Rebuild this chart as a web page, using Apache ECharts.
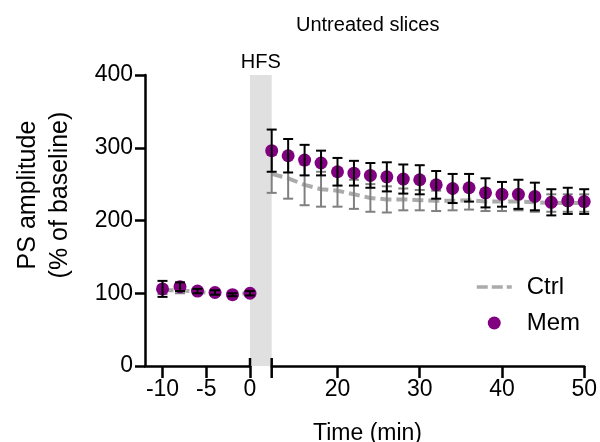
<!DOCTYPE html>
<html><head><meta charset="utf-8">
<script src="https://cdn.jsdelivr.net/npm/echarts@6/dist/echarts.min.js"></script>
<style>html,body{margin:0;padding:0;background:#fff}#c{width:600px;height:442px}</style>
</head><body><div id="c"></div>
<script>
const preTime = [-10, -8, -6, -4, -2, 0];
const postTime = [12, 14, 16, 18, 20, 22, 24, 26, 28, 30, 32, 34, 36, 38, 40, 42, 44, 46, 48, 50];
const memPre = [106, 109, 103, 101, 98, 100];
const memPreErr = [11, 6, 3, 3, 2, 3];
const ctrlPre = [104, 104, 102, 100, 99, 100];
const ctrlPreErr = [5, 4, 3, 3, 3, 3];
const memPost = [296, 289, 283, 279, 267, 265, 262, 260, 257, 256, 249, 244, 245, 238, 236, 236, 233, 225, 227, 226];
const memPostErr = [29, 23, 21, 17, 19, 17, 17, 20, 20, 20, 19, 20, 19, 20, 17, 20, 19, 18, 18, 17];
const ctrlPost = [264, 258, 249, 243, 241, 236, 231, 229, 229, 228, 227, 227, 228, 226, 226, 226, 225, 224, 224, 224];
const ctrlPostErr = [26, 28, 28, 24, 22, 20, 19, 18, 15, 14, 14, 13, 13, 13, 13, 12, 13, 12, 12, 12];
const preTicks = [-10, -5, 0];
const postTicks = [20, 30, 40, 50];

const FONT = 'Liberation Sans, Arial, sans-serif';
const PURPLE = '#800080';
const CTRL_LINE = '#ababab';
const CTRL_ERR = '#808080';

function pairs(t, v) { return t.map((x, i) => [x, v[i]]); }
function triples(t, v, e) { return t.map((x, i) => [x, v[i], e[i]]); }

function errRender(color) {
  return function (params, api) {
    const x = api.value(0), v = api.value(1), e = api.value(2);
    const top = api.coord([x, v + e]);
    const bot = api.coord([x, v - e]);
    const cw = 5;
    const st = { stroke: color, lineWidth: 2 };
    return {
      type: 'group', children: [
        { type: 'line', shape: { x1: top[0], y1: top[1], x2: bot[0], y2: bot[1] }, style: st },
        { type: 'line', shape: { x1: top[0] - cw, y1: top[1], x2: top[0] + cw, y2: top[1] }, style: st },
        { type: 'line', shape: { x1: bot[0] - cw, y1: bot[1], x2: bot[0] + cw, y2: bot[1] }, style: st }
      ]
    };
  };
}

const chart = echarts.init(document.getElementById('c'));
const axisLine = { show: true, onZero: false, lineStyle: { color: '#000', width: 2.5 } };
const labelStyle = { color: '#000', fontSize: 23, fontFamily: FONT };

const option = {
  animation: false,
  title: [
    { text: 'Untreated slices', left: 291, top: 10, textStyle: { fontSize: 20, fontWeight: 'normal', color: '#000', fontFamily: FONT } },
    { text: 'Time (min)', left: 308, top: 417, textStyle: { fontSize: 23, fontWeight: 'normal', color: '#000', fontFamily: FONT } }
  ],
  legend: {
    orient: 'vertical', left: 470, top: 270, itemWidth: 35, itemHeight: 13, itemGap: 12,
    textStyle: { fontSize: 24, color: '#000', fontFamily: FONT, padding: [0, 0, 0, 10] },
    data: [
      { name: 'Ctrl', itemStyle: { opacity: 0 }, lineStyle: { width: 3.5, type: [11, 4] } },
      { name: 'Mem', icon: 'circle' }
    ]
  },
  grid: [
    { left: 145, width: 105, top: 75, height: 291 },
    { left: 271.7, right: 14, top: 75, height: 291 }
  ],
  xAxis: [
    { gridIndex: 0, type: 'value', min: -12, max: 0, axisLine,
      axisTick: { show: true, customValues: preTicks, length: 12, lineStyle: { color: '#000', width: 2.5 } },
      axisLabel: Object.assign({ customValues: preTicks, margin: 12 }, labelStyle), splitLine: { show: false } },
    { gridIndex: 1, type: 'value', min: 12, max: 50, axisLine,
      axisTick: { show: true, customValues: postTicks, length: 12, lineStyle: { color: '#000', width: 2.5 } },
      axisLabel: Object.assign({ customValues: postTicks, margin: 12 }, labelStyle), splitLine: { show: false } }
  ],
  yAxis: [
    { gridIndex: 0, type: 'value', min: 0, max: 400, interval: 100, axisLine,
      axisTick: { show: true, length: 10, lineStyle: { color: '#000', width: 2.5 } },
      axisLabel: Object.assign({ margin: 12 }, labelStyle), splitLine: { show: false } },
    { gridIndex: 1, type: 'value', min: 0, max: 400, interval: 100, show: false }
  ],
  series: [
    { name: 'Ctrl', type: 'line', xAxisIndex: 0, yAxisIndex: 0, data: pairs(preTime, ctrlPre), symbol: 'none',
      lineStyle: { color: CTRL_LINE, width: 4, type: [11, 5] }, itemStyle: { color: CTRL_LINE }, z: 2 },
    { name: 'Ctrl', type: 'line', xAxisIndex: 1, yAxisIndex: 1, data: pairs(postTime, ctrlPost), symbol: 'none',
      lineStyle: { color: CTRL_LINE, width: 4, type: [11, 5] }, itemStyle: { color: CTRL_LINE }, z: 2 },
    { type: 'custom', xAxisIndex: 0, yAxisIndex: 0, data: triples(preTime, ctrlPre, ctrlPreErr), renderItem: errRender(CTRL_ERR), z: 3 },
    { type: 'custom', xAxisIndex: 1, yAxisIndex: 1, data: triples(postTime, ctrlPost, ctrlPostErr), renderItem: errRender(CTRL_ERR), z: 3 },
    { name: 'Mem', type: 'scatter', xAxisIndex: 0, yAxisIndex: 0, data: pairs(preTime, memPre), symbolSize: 13,
      itemStyle: { color: PURPLE, opacity: 1 }, z: 4 },
    { name: 'Mem', type: 'scatter', xAxisIndex: 1, yAxisIndex: 1, data: pairs(postTime, memPost), symbolSize: 13,
      itemStyle: { color: PURPLE, opacity: 1 }, z: 4 },
    { type: 'custom', xAxisIndex: 0, yAxisIndex: 0, data: triples(preTime, memPre, memPreErr), renderItem: errRender('#000'), z: 5 },
    { type: 'custom', xAxisIndex: 1, yAxisIndex: 1, data: triples(postTime, memPost, memPostErr), renderItem: errRender('#000'), z: 5 }
  ]
};
chart.setOption(option);

// HFS band, axis title and axis break marks, positioned through the axes
const p0 = chart.convertToPixel({ gridIndex: 0 }, [0, 0]);
const p0top = chart.convertToPixel({ gridIndex: 0 }, [0, 400]);
const pMid = chart.convertToPixel({ gridIndex: 0 }, [-12, 235]);
const p12 = chart.convertToPixel({ gridIndex: 1 }, [12, 0]);
chart.setOption({
  graphic: [
    { type: 'rect', shape: { x: p0[0], y: p0top[1], width: p12[0] - p0[0], height: p0[1] - p0top[1] }, style: { fill: '#e0e0e0' }, z: 0, silent: true },
    { type: 'text', x: (p0[0] + p12[0]) / 2, y: p0top[1] - 3, style: { text: 'HFS', fill: '#000', font: '20px ' + FONT, textAlign: 'center', textVerticalAlign: 'bottom' }, z: 10 },
    { type: 'text', x: 44, y: pMid[1], rotation: Math.PI / 2,
      style: { text: 'PS amplitude\n(% of baseline)', fill: '#000', font: '25px ' + FONT, lineHeight: 32, textAlign: 'center', textVerticalAlign: 'middle' }, z: 10 },
    { type: 'line', shape: { x1: p0[0], y1: p0[1] - 8, x2: p0[0], y2: p0[1] }, style: { stroke: '#000', lineWidth: 2.5 }, z: 10 },
    { type: 'line', shape: { x1: p12[0], y1: p12[1] - 8, x2: p12[0], y2: p12[1] + 12 }, style: { stroke: '#000', lineWidth: 2.5 }, z: 10 }
  ]
});
</script></body></html>
